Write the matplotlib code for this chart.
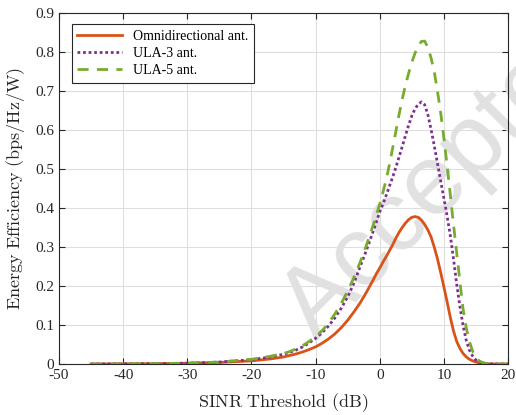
import matplotlib
matplotlib.use("Agg")
import matplotlib.pyplot as plt

# datos (SINR en dB, eficiencia en bps/Hz/W)
sinr_db = [-45, -40, -35, -30, -25, -20, -17, -15, -14, -13, -12, -11, -10, -9, -8, -7, -6, -5, -4, -3,
           -2.5, -2, -1.5, -1, -0.5, 0, 0.5, 1, 1.5, 2, 2.5, 3, 3.5, 4, 4.5, 5,
           5.5, 6, 6.5, 7, 7.5, 8, 8.5, 9, 9.5, 10, 10.5, 11, 11.5, 12, 12.5, 13, 13.5, 14, 14.5, 15,
           15.5, 16, 16.5, 17, 18, 20]
ee_omni = [0, 0.0003, 0.0008, 0.002, 0.004, 0.008, 0.013, 0.018, 0.022, 0.026, 0.031, 0.037, 0.044,
           0.053, 0.064, 0.077, 0.093, 0.112, 0.134, 0.158,
           0.172, 0.186, 0.201, 0.216, 0.232, 0.246, 0.261, 0.275, 0.290, 0.305, 0.322, 0.337, 0.350,
           0.361, 0.370, 0.376,
           0.378, 0.376, 0.369, 0.358, 0.344, 0.326, 0.300, 0.270, 0.235, 0.198, 0.160, 0.120, 0.085,
           0.058, 0.040, 0.027, 0.018, 0.012, 0.008, 0.005,
           0.003, 0.002, 0.001, 0.0005, 0, 0]
ee_ula3 = [0, 0.0003, 0.001, 0.002, 0.005, 0.011, 0.018, 0.025, 0.030, 0.036, 0.044, 0.054, 0.066,
           0.080, 0.097, 0.118, 0.143, 0.172, 0.208, 0.252,
           0.273, 0.295, 0.318, 0.341, 0.365, 0.390, 0.410, 0.432, 0.455, 0.478, 0.503, 0.530, 0.557,
           0.585, 0.612, 0.636,
           0.654, 0.666, 0.672, 0.665, 0.640, 0.602, 0.560, 0.515, 0.470, 0.425, 0.380, 0.330, 0.270,
           0.205, 0.148, 0.098, 0.060, 0.035, 0.020, 0.010,
           0.005, 0.002, 0.001, 0.0003, 0, 0]
ee_ula5 = [0, 0.0003, 0.001, 0.002, 0.005, 0.012, 0.020, 0.027, 0.032, 0.039, 0.047, 0.058, 0.070,
           0.085, 0.104, 0.128, 0.155, 0.187, 0.223, 0.263,
           0.285, 0.308, 0.332, 0.357, 0.383, 0.410, 0.440, 0.472, 0.510, 0.552, 0.595, 0.638, 0.678,
           0.714, 0.745, 0.773,
           0.797, 0.815, 0.827, 0.828, 0.812, 0.785, 0.750, 0.700, 0.645, 0.580, 0.510, 0.435, 0.358,
           0.285, 0.212, 0.140, 0.092, 0.057, 0.032, 0.016,
           0.008, 0.004, 0.002, 0.001, 0, 0]
etiquetas = ["Omnidirectional ant.", "ULA-3 ant.", "ULA-5 ant."]
xticks = [-50, -40, -30, -20, -10, 0, 10, 20]
yticks = [0, 0.1, 0.2, 0.3, 0.4, 0.5, 0.6, 0.7, 0.8, 0.9]

plt.rcParams["font.family"] = ["Liberation Serif", "DejaVu Serif"]
plt.rcParams["mathtext.fontset"] = "cm"

fig = plt.figure(figsize=(5.16, 4.15), dpi=100)
ax = fig.add_axes([0.1143, 0.1229, 0.8702, 0.8458])

# marca de agua "Accepted"
ax.text(0.862, 0.575, "Accepted", transform=fig.transFigure, fontsize=72, color="#E1E1E1",
        rotation=45, ha="center", va="center", family="Liberation Sans", zorder=1.5,
        clip_on=False, rotation_mode="anchor")

ax.plot(sinr_db, ee_omni, color="#D95319", lw=2.0, label=etiquetas[0])
ax.plot(sinr_db, ee_ula3, color="#7E2F8E", lw=2.0, ls=(0, (1, 1)), label=etiquetas[1])
ax.plot(sinr_db, ee_ula5, color="#77AC30", lw=2.0, ls=(0, (4, 3)), label=etiquetas[2])

ax.set_xlim(-50, 20)
ax.set_ylim(0, 0.9)
ax.set_xticks(xticks)
ax.set_yticks(yticks)
ax.set_xticklabels([str(v) for v in xticks])
ax.set_yticklabels(["0"] + ["%.1f" % v for v in yticks[1:]])
ax.tick_params(direction="in", top=True, right=True, labelsize=11, colors="0.15", length=4)
ax.grid(True, color="0.87", lw=0.8)
ax.set_axisbelow(True)
for s in ax.spines.values():
    s.set_color("0.15")

ax.set_xlabel(r"$\mathrm{SINR\ Threshold\ (dB)}$", fontsize=13, color="0.15", labelpad=7)
ax.set_ylabel(r"$\mathrm{Energy\ Efficiency\ (bps/Hz/W)}$", fontsize=13, color="0.15", labelpad=6)

leg = ax.legend(loc="upper left", fontsize=10, fancybox=False, framealpha=1,
                edgecolor="0.15", borderaxespad=0.6, handlelength=3.2, labelspacing=0.3,
                bbox_to_anchor=(0.010, 0.992))
leg.get_frame().set_linewidth(0.8)
leg.set_zorder(5)

fig.savefig("out.png", dpi=100)
